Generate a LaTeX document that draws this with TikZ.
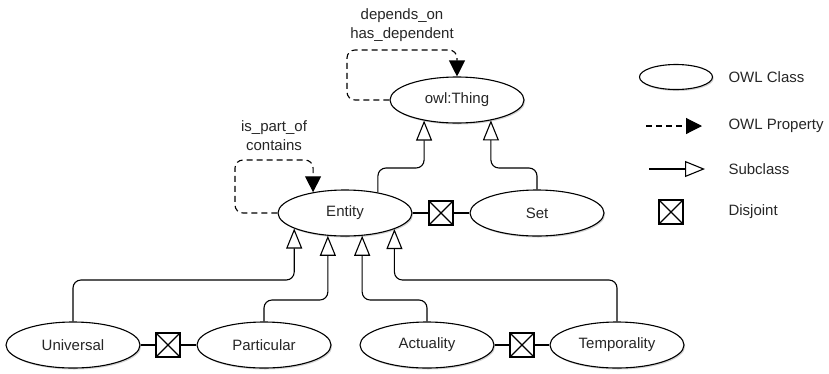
\documentclass[tikz,border=0pt]{standalone}
\usepackage{fontspec}
\setmainfont{Liberation Sans}
\usetikzlibrary{arrows.meta,positioning,shapes.geometric,shadows}

\begin{document}
\begin{tikzpicture}[x=1pt,y=-1pt,line width=1.1pt,
    font=\fontsize{15}{19}\selectfont,text=black!85,
    class/.style={ellipse,draw,fill=white,inner sep=0pt,
      minimum width=134pt,minimum height=46pt,
      drop shadow={shadow xshift=1.2pt,shadow yshift=-1.5pt,opacity=.35}},
    disjoint/.style={draw,fill=white,minimum size=24pt,inner sep=0pt,
      path picture={\draw (path picture bounding box.south west) -- (path picture bounding box.north east)
        (path picture bounding box.north west) -- (path picture bounding box.south east);}},
    property/.style={dash pattern=on 6pt off 4pt,rounded corners=8pt,
      -{Triangle[length=16pt,width=16pt]}},
    subclass/.style={rounded corners=8pt,-{Triangle[open,length=20pt,width=16pt]}},
    legend/.style={anchor=west,inner sep=0pt}]
    \useasboundingbox (0,0) rectangle (829,373);

    \node[class]    (thing)       at (457,100) {owl:Thing};
    \node[class]    (entity)      at (345,213) {Entity};
    \node[class]    (set)         at (537,213) {Set};
    \node[class]    (universal)   at (73,345)  {Universal};
    \node[class]    (particular)  at (264,345) {Particular};
    \node[class]    (actuality)   at (427,345) {Actuality};
    \node[class]    (temporality) at (617,345) {Temporality};

    \node[disjoint] (djEntSet)  at (441,213) {};
    \node[disjoint] (djUniPart) at (168,345) {};
    \node[disjoint] (djActTemp) at (522,345) {};

    % properties
    \draw[property] (thing.west) -| (347,50)
      -| node[pos=.25,above=5pt,align=center] {depends\_on\\has\_dependent} (thing.north);
    \draw[property] (entity.west) -| (235,160)
      -| node[pos=.25,above=5pt,align=center] {is\_part\_of\\contains} (entity.147);

    % subclasses
    \draw[subclass] (entity.32) |- (0,168 -| thing.212) -- (thing.212);
    \draw[subclass] (set.north) |- (0,168 -| thing.329) -- (thing.329);
    \draw[subclass] (universal.north)   |- (0,280 -| entity.197.5) -- (entity.197.5);
    \draw[subclass] (particular.north)  |- (0,300 -| entity.233) -- (entity.233);
    \draw[subclass] (actuality.north)   |- (0,300 -| entity.307) -- (entity.307);
    \draw[subclass] (temporality.north) |- (0,280 -| entity.342.5) -- (entity.342.5);

    % disjoint
    \draw (entity) -- (djEntSet) -- (set);
    \draw (universal) -- (djUniPart) -- (particular);
    \draw (actuality) -- (djActTemp) -- (temporality);

    % legend
    \node[class,minimum width=73pt,minimum height=25pt] (lgClass) at (676,77) {};
    \node[legend] (lgClassTxt) at (728,77) {OWL Class};
    \coordinate (lgPropA) at (646,126);
    \coordinate (lgPropB) at (702,126);
    \draw[property] (lgPropA) -- (lgPropB);
    \node[legend] (lgPropTxt) at (728,126) {OWL Property};
    \coordinate (lgSubA) at (649,169);
    \coordinate (lgSubB) at (705,169);
    \draw[subclass] (lgSubA) -- (lgSubB);
    \node[legend] (lgSubTxt) at (728,169) {Subclass};
    \node[disjoint] (lgDisj) at (671,212) {};
    \node[legend] (lgDisjTxt) at (728,212) {Disjoint};
\end{tikzpicture}
\end{document}
